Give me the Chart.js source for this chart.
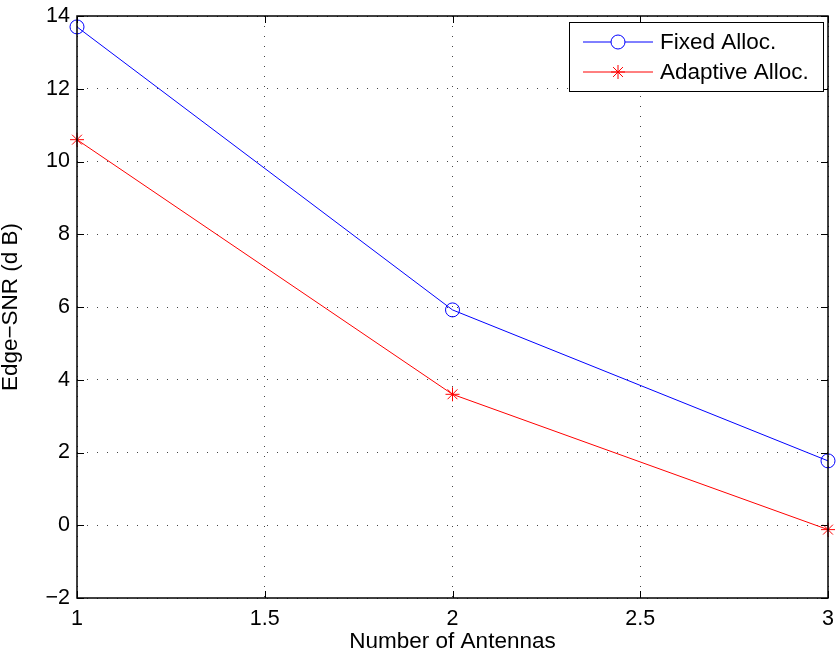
<!DOCTYPE html>
<html>
<head>
<meta charset="utf-8">
<script src="https://cdn.jsdelivr.net/npm/chart.js@4.4.0/dist/chart.umd.min.js"></script>
<style>
  html, body { margin: 0; padding: 0; background: #fff; }
  #wrap { width: 837px; height: 662px; }
</style>
</head>
<body>
<div id="wrap"><canvas id="snrChart" width="837" height="662"></canvas></div>
<script>
const antennas = [1, 2, 3];
const fixedAlloc = [13.7, 5.92, 1.77];
const adaptiveAlloc = [10.6, 3.6, -0.12];
const xTicks = [1, 1.5, 2, 2.5, 3];
const yTicks = [-2, 0, 2, 4, 6, 8, 10, 12, 14];

const FONT = 'Liberation Sans, Arial, Helvetica, sans-serif';

function toPoints(xs, ys) {
    return xs.map((x, i) => ({ x: x, y: ys[i] }));
}

// box around the axes with inward ticks on every side, plus the legend
const boxPlugin = {
    id: 'matlabBox',
    afterDraw(chart) {
        const { ctx, chartArea: a, scales } = chart;
        const tick = 7;
        ctx.save();
        ctx.strokeStyle = '#000';
        ctx.lineWidth = 1;
        ctx.beginPath();
        xTicks.forEach(v => {
            const px = Math.round(scales.x.getPixelForValue(v)) + 0.5;
            ctx.moveTo(px, a.bottom); ctx.lineTo(px, a.bottom - tick);
            ctx.moveTo(px, a.top); ctx.lineTo(px, a.top + tick);
        });
        yTicks.forEach(v => {
            const py = Math.round(scales.y.getPixelForValue(v)) + 0.5;
            ctx.moveTo(a.left, py); ctx.lineTo(a.left + tick, py);
            ctx.moveTo(a.right, py); ctx.lineTo(a.right - tick, py);
        });
        ctx.stroke();
        ctx.lineWidth = 1.5;
        ctx.strokeRect(a.left, a.top, a.right - a.left, a.bottom - a.top);

        // legend
        const lx = 569, ly = 22, lw = 254, lh = 69;
        ctx.fillStyle = '#fff';
        ctx.fillRect(lx, ly, lw, lh);
        ctx.lineWidth = 1;
        ctx.strokeStyle = '#000';
        ctx.strokeRect(lx + 0.5, ly + 0.5, lw, lh);
        ctx.font = '22.5px ' + FONT;
        ctx.textBaseline = 'middle';
        chart.data.datasets.forEach((ds, i) => {
            const cy = ly + 20 + i * 30;
            ctx.strokeStyle = ds.borderColor;
            ctx.lineWidth = 1;
            ctx.beginPath();
            ctx.moveTo(583, cy); ctx.lineTo(653, cy);
            ctx.stroke();
            Chart.helpers.drawPoint(ctx, {
                pointStyle: ds.pointStyle,
                radius: ds.pointRadius,
                borderWidth: 1
            }, 618, cy);
            ctx.fillStyle = '#000';
            ctx.fillText(ds.label, 660, cy + 1);
        });
        ctx.restore();
    }
};

const ctx = document.getElementById('snrChart').getContext('2d');
const snrChart = new Chart(ctx, {
    type: 'line',
    data: {
        datasets: [
            {
                label: 'Fixed Alloc.',
                data: toPoints(antennas, fixedAlloc),
                borderColor: '#0000ff',
                backgroundColor: 'rgba(0,0,0,0)',
                borderWidth: 1,
                pointStyle: 'circle',
                pointRadius: 7,
                pointBorderWidth: 1,
                fill: false,
                tension: 0
            },
            {
                label: 'Adaptive Alloc.',
                data: toPoints(antennas, adaptiveAlloc),
                borderColor: '#ff0000',
                backgroundColor: 'rgba(0,0,0,0)',
                borderWidth: 1,
                pointStyle: 'star',
                pointRadius: 7,
                pointBorderWidth: 1,
                fill: false,
                tension: 0
            }
        ]
    },
    options: {
        responsive: false,
        animation: false,
        clip: false,
        layout: { padding: { top: 16, right: 9, bottom: 9, left: 0 } },
        plugins: {
            legend: { display: false },
            tooltip: { enabled: false }
        },
        scales: {
            x: {
                type: 'linear',
                min: 1,
                max: 3,
                afterBuildTicks: s => { s.ticks = xTicks.map(v => ({ value: v })); },
                afterFit: s => { s.height = 55; s.paddingLeft = 0; s.paddingRight = 0; },
                border: { display: false, dash: [1, 9] },
                grid: {
                    color: '#444',
                    lineWidth: 1,
                    drawTicks: false
                },
                ticks: {
                    color: '#000',
                    padding: 8,
                    maxRotation: 0,
                    font: { family: FONT, size: 21.5 },
                    callback: v => String(v)
                },
                title: {
                    display: true,
                    text: 'Number of Antennas',
                    color: '#000',
                    padding: 0,
                    font: { family: FONT, size: 22.5, lineHeight: 1 }
                }
            },
            y: {
                type: 'linear',
                min: -2,
                max: 14,
                afterBuildTicks: s => { s.ticks = yTicks.map(v => ({ value: v })); },
                afterFit: s => { s.width = 77; s.paddingTop = 0; s.paddingBottom = 0; },
                border: { display: false, dash: [1, 9] },
                grid: {
                    color: '#444',
                    lineWidth: 1,
                    drawTicks: false
                },
                ticks: {
                    color: '#000',
                    padding: 7,
                    font: { family: FONT, size: 21.5 },
                    callback: v => (v < 0 ? '\u2212' + Math.abs(v) : String(v))
                },
                title: {
                    display: true,
                    text: 'Edge\u2212SNR (d B)',
                    color: '#000',
                    padding: 0,
                    font: { family: FONT, size: 22.5, lineHeight: 1 }
                }
            }
        }
    },
    plugins: [boxPlugin]
});
</script>
</body>
</html>
